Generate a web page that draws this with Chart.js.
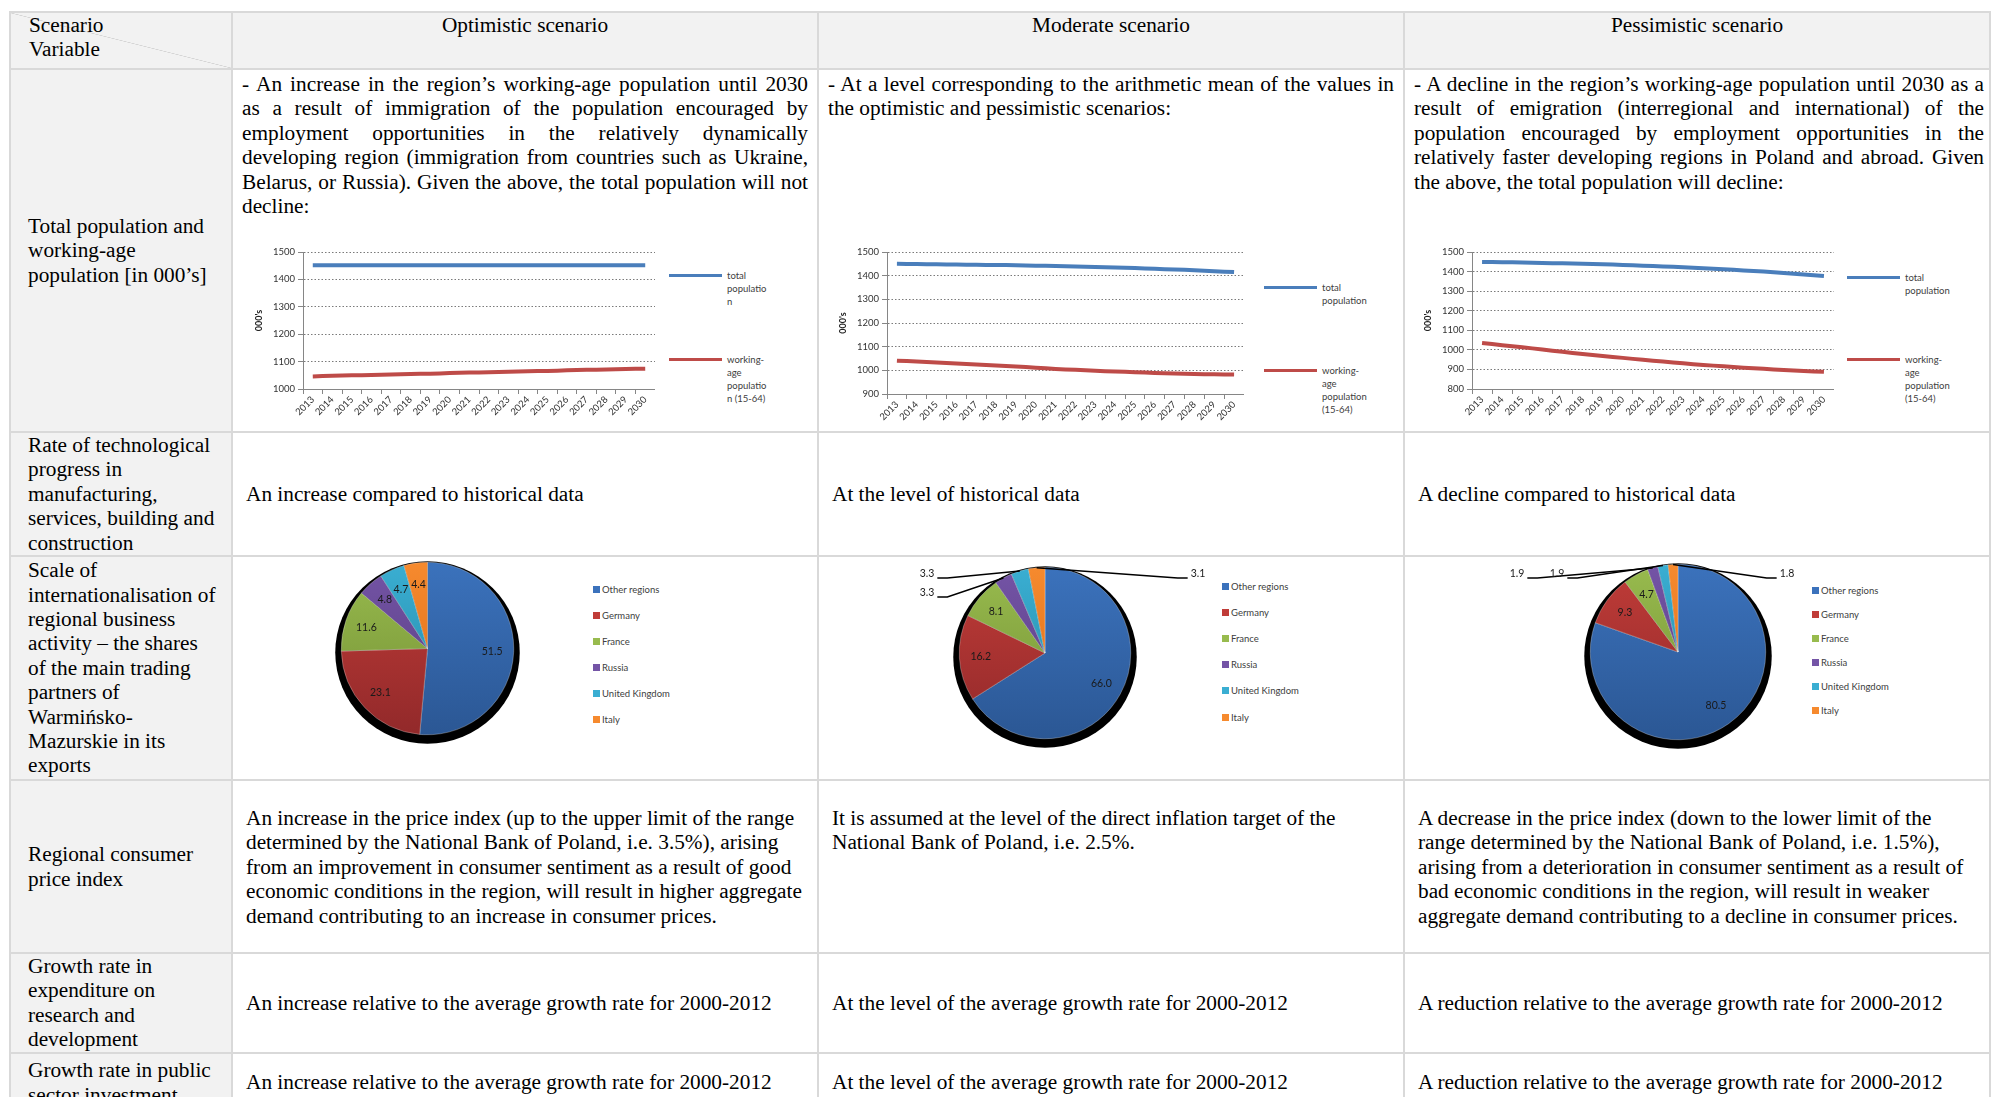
<!DOCTYPE html>
<html>
<head>
<meta charset="utf-8">
<title>Scenario assumptions</title>
<script src="https://cdn.jsdelivr.net/npm/chart.js@4.4.1/dist/chart.umd.min.js"></script>
<style>
  html, body { margin: 0; padding: 0; background: #fff; }
  body { width: 1992px; height: 1097px; overflow: hidden; position: relative; }
  table {
    position: absolute; left: 9px; top: 11px;
    border-collapse: collapse; table-layout: fixed; width: 1982px;
    font-family: "Liberation Serif", "Times New Roman", serif;
    font-size: 21.3px; line-height: 24.4px; color: #000;
  }
  td { border: 2px solid #d9d9d9; padding: 0; overflow: hidden; }
  .head td { background: #f2f2f2; vertical-align: top; text-align: center; padding-top: 0; }
  .head td.corner {
    text-align: left; padding: 1px 0 0 18px; line-height: 23.5px;
    background: linear-gradient(to top right, #f2f2f2 calc(50% - 0.6px), #cfcfcf 50%, #f2f2f2 calc(50% + 0.6px));
  }
  td.var { background: #f2f2f2; vertical-align: middle; padding: 0 13px 0 17px; }
  td.txt { vertical-align: middle; padding: 0 10px 0 13px; }
  td.intro { vertical-align: top; text-align: justify; padding: 2px 9px 0 9px; }
  td.intro.last { padding-right: 5px; }
  td.top { vertical-align: top; padding: 25px 10px 0 13px; }
  .fullline { display: block; text-align-last: justify; }
  .box { position: absolute; }
  .lg { position: absolute; top: 0; font-family: Lato, "Liberation Sans", sans-serif; font-size: 9.5px; color: #404040; }
  .lg-item { position: absolute; left: 0; display: flex; align-items: flex-start; }
  .lg-line { width: 53px; height: 3px; margin-top: 5px; margin-right: 5px; flex: none; }
  .lg-text { line-height: 13px; overflow-wrap: anywhere; }
  .pl-item { position: absolute; left: 0; display: flex; align-items: center; white-space: nowrap; }
  .pl-box { width: 7px; height: 7px; margin-right: 2px; flex: none; }
</style>
</head>
<body>
<table>
  <colgroup><col style="width:222px"><col style="width:586px"><col style="width:586px"><col style="width:586px"></colgroup>
  <tr class="head" style="height:57px">
    <td class="corner">Scenario<br>Variable</td>
    <td>Optimistic scenario</td>
    <td>Moderate scenario</td>
    <td>Pessimistic scenario</td>
  </tr>
  <tr style="height:363px">
    <td class="var">Total population and working-age population [in 000’s]</td>
    <td class="intro"><span class="fullline">- An increase in the region’s working-age population until 2030</span>as a result of immigration of the population encouraged by employment opportunities in the relatively dynamically developing region (immigration from countries such as Ukraine, Belarus, or Russia). Given the above, the total population will not decline:</td>
    <td class="intro">- At a level corresponding to the arithmetic mean of the values in the optimistic and pessimistic scenarios:</td>
    <td class="intro last">- A decline in the region’s working-age population until 2030 as a result of emigration (interregional and international) of the population encouraged by employment opportunities in the relatively faster developing regions in Poland and abroad. Given the above, the total population will decline:</td>
  </tr>
  <tr style="height:123px">
    <td class="var">Rate of technological progress in manufacturing, services, building and construction</td>
    <td class="txt">An increase compared to historical data</td>
    <td class="txt">At the level of historical data</td>
    <td class="txt">A decline compared to historical data</td>
  </tr>
  <tr style="height:224px">
    <td class="var">Scale of internationalisation of regional business activity – the shares of the main trading partners of Warmińsko-Mazurskie in its exports</td>
    <td></td><td></td><td></td>
  </tr>
  <tr style="height:173px">
    <td class="var">Regional consumer price index</td>
    <td class="top">An increase in the price index (up to the upper limit of the range determined by the National Bank of Poland, i.e. 3.5%), arising from an improvement in consumer sentiment as a result of good economic conditions in the region, will result in higher aggregate demand contributing to an increase in consumer prices.</td>
    <td class="top">It is assumed at the level of the direct inflation target of the National Bank of Poland, i.e. 2.5%.</td>
    <td class="top">A decrease in the price index (down to the lower limit of the range determined by the National Bank of Poland, i.e. 1.5%), arising from a deterioration in consumer sentiment as a result of bad economic conditions in the region, will result in weaker aggregate demand contributing to a decline in consumer prices.</td>
  </tr>
  <tr style="height:99px">
    <td class="var">Growth rate in expenditure on research and development</td>
    <td class="txt">An increase relative to the average growth rate for 2000-2012</td>
    <td class="txt">At the level of the average growth rate for 2000-2012</td>
    <td class="txt">A reduction relative to the average growth rate for 2000-2012</td>
  </tr>
  <tr style="height:60px">
    <td class="var">Growth rate in public sector investment</td>
    <td class="txt">An increase relative to the average growth rate for 2000-2012</td>
    <td class="txt">At the level of the average growth rate for 2000-2012</td>
    <td class="txt">A reduction relative to the average growth rate for 2000-2012</td>
  </tr>
</table>

<div class="box" style="left:250px;top:242px;width:405px;height:182px"><canvas id="lineOpt"></canvas></div>
<div class="box" style="left:834px;top:242px;width:410px;height:187px"><canvas id="lineMod"></canvas></div>
<div class="box" style="left:1419px;top:242px;width:415px;height:182px"><canvas id="linePes"></canvas></div>
<div class="lg" id="lgOpt" style="left:669px"></div>
<div class="lg" id="lgMod" style="left:1264px"></div>
<div class="lg" id="lgPes" style="left:1847px"></div>

<div class="box" style="left:320px;top:557px;width:215px;height:195px"><canvas id="pieOpt"></canvas></div>
<div class="box" style="left:905px;top:557px;width:310px;height:195px"><canvas id="pieMod"></canvas></div>
<div class="box" style="left:1495px;top:557px;width:310px;height:195px"><canvas id="piePes"></canvas></div>
<div class="lg" id="plOpt" style="left:593px"></div>
<div class="lg" id="plMod" style="left:1222px"></div>
<div class="lg" id="plPes" style="left:1812px"></div>

<script>
"use strict";

// population, in thousands
const years = ["2013", "2014", "2015", "2016", "2017", "2018", "2019", "2020", "2021",
  "2022", "2023", "2024", "2025", "2026", "2027", "2028", "2029", "2030"];
const seriesNames = ["total population", "working-age population (15-64)"];

const optimisticTotal = [1452, 1452, 1452, 1452, 1452, 1452, 1452, 1452, 1452,
  1452, 1452, 1452, 1452, 1452, 1452, 1452, 1452, 1452];
const optimisticWorking = [1046, 1048, 1050, 1051, 1053, 1055, 1056, 1058, 1060,
  1061, 1063, 1065, 1066, 1068, 1070, 1071, 1073, 1074];
const moderateTotal = [1450, 1449, 1448, 1447, 1446, 1445, 1444, 1442, 1441,
  1439, 1437, 1435, 1432, 1429, 1426, 1423, 1419, 1415];
const moderateWorking = [1041, 1037, 1033, 1029, 1025, 1020, 1016, 1011, 1006,
  1002, 998, 995, 992, 989, 987, 985, 983, 982];
const pessimisticTotal = [1449, 1448, 1446, 1444, 1442, 1440, 1437, 1434, 1430,
  1426, 1422, 1417, 1412, 1406, 1400, 1393, 1385, 1377];
const pessimisticWorking = [1035, 1024, 1013, 1002, 990, 979, 969, 959, 949,
  940, 931, 923, 916, 909, 903, 897, 892, 888];

const optimisticRange = [1000, 1500];
const moderateRange = [900, 1500];
const pessimisticRange = [800, 1500];

// export shares, %
const partners = ["Other regions", "Germany", "France", "Russia", "United Kingdom", "Italy"];
const optimisticShares = [51.5, 23.1, 11.6, 4.8, 4.7, 4.4];
const moderateShares = [66.0, 16.2, 8.1, 3.3, 3.3, 3.1];
const pessimisticShares = [80.5, 9.3, 4.7, 1.9, 1.9, 1.8];

const lineColors = ["#4A7EBB", "#BE4B48"];
const sliceTop = ["#3B72BC", "#C03C38", "#98BB4E", "#7454A6", "#3AAED2", "#F68A2E"];
const sliceBottom = ["#2B5794", "#92292A", "#738F34", "#563C7E", "#2486A3", "#DB6A14"];
const smallFont = "Lato, 'Liberation Sans', sans-serif";

const makeLineChart = function (id, total, working, range) {
  return new Chart(document.getElementById(id), {
    type: "line",
    data: {
      labels: years,
      datasets: [total, working].map((values, i) => ({
        label: seriesNames[i],
        data: values,
        borderColor: lineColors[i],
        borderWidth: 4,
        tension: 0.4,
        pointRadius: 0,
      })),
    },
    options: {
      responsive: true,
      maintainAspectRatio: false,
      animation: false,
      layout: { padding: { top: 10, left: 4, right: 0, bottom: 0 } },
      plugins: { legend: { display: false }, tooltip: { enabled: false } },
      scales: {
        x: {
          offset: true,
          grid: { offset: true, drawOnChartArea: false, tickLength: 5, color: "#868686" },
          border: { color: "#868686" },
          ticks: {
            autoSkip: false, maxRotation: 45, minRotation: 45, padding: 0,
            color: "#333", font: { family: smallFont, size: 9.5 },
          },
          afterFit: (scale) => { scale.height = 35; },
        },
        y: {
          min: range[0],
          max: range[1],
          ticks: {
            stepSize: 100, padding: 3, color: "#333", font: { family: smallFont, size: 9.5 },
            callback: (value) => String(value),
          },
          grid: { color: "#7a7a7a", tickLength: 5, tickColor: "#868686" },
          border: { color: "#868686", dash: [1.5, 2] },
          title: {
            display: true, text: "000's", padding: 0, color: "#222",
            font: { family: smallFont, size: 9, weight: "bold" },
          },
          afterFit: (scale) => { scale.width = 49; },
        },
      },
    },
  });
};

const lineLegend = function (chart, id, rows, textWidth) {
  const el = document.getElementById(id);
  chart.data.datasets.forEach((ds, i) => {
    const item = document.createElement("div");
    item.className = "lg-item";
    item.style.top = rows[i] - 6.5 + "px";
    item.innerHTML = `<span class="lg-line" style="background:${ds.borderColor}"></span>` +
      `<span class="lg-text" style="width:${textWidth}px">${ds.label}</span>`;
    el.appendChild(item);
  });
};

// black shade behind the pie, like the Excel original
const pieShade = {
  id: "pieShade",
  beforeDatasetsDraw(chart) {
    const arc = chart.getDatasetMeta(0).data[0];
    if (!arc) return;
    const ctx = chart.ctx;
    ctx.save();
    ctx.fillStyle = "#000";
    ctx.beginPath();
    ctx.ellipse(arc.x, arc.y + 4, arc.outerRadius + 6, arc.outerRadius + 5, 0, 0, Math.PI * 2);
    ctx.fill();
    ctx.restore();
  },
};

// value labels, inside the slice or on a leader line
const sliceLabels = {
  id: "sliceLabels",
  afterDatasetsDraw(chart, args, opts) {
    const ctx = chart.ctx;
    const values = chart.data.datasets[0].data;
    const callouts = opts.callouts || {};
    ctx.save();
    ctx.font = `10.5px ${smallFont}`;
    ctx.fillStyle = "#1a1a1a";
    ctx.strokeStyle = "#000";
    ctx.lineWidth = 1.5;
    ctx.textAlign = "center";
    ctx.textBaseline = "middle";
    chart.getDatasetMeta(0).data.forEach((arc, i) => {
      const mid = (arc.startAngle + arc.endAngle) / 2;
      const text = values[i].toFixed(1);
      const c = callouts[i];
      if (c) {
        const lx = arc.x + c[0];
        const ly = arc.y + c[1];
        const side = c[0] < 0 ? 1 : -1;
        const w = ctx.measureText(text).width;
        const sx = lx + side * (w / 2 + 3);
        const sy = ly + 4;
        ctx.beginPath();
        ctx.moveTo(sx, sy);
        ctx.lineTo(sx + side * 10, sy);
        ctx.lineTo(arc.x + Math.cos(mid) * arc.outerRadius, arc.y + Math.sin(mid) * arc.outerRadius);
        ctx.stroke();
        ctx.fillText(text, lx, ly);
      } else {
        const r = arc.outerRadius * 0.75;
        ctx.fillText(text, arc.x + Math.cos(mid) * r, arc.y + Math.sin(mid) * r);
      }
    });
    ctx.restore();
  },
};

const makePieChart = function (id, shares, padding, callouts) {
  return new Chart(document.getElementById(id), {
    type: "pie",
    data: {
      labels: partners,
      datasets: [{
        data: shares,
        backgroundColor: (c) => {
          const area = c.chart.chartArea;
          if (!area) return sliceTop[c.dataIndex];
          const g = c.chart.ctx.createLinearGradient(0, area.top, 0, area.bottom);
          g.addColorStop(0, sliceTop[c.dataIndex]);
          g.addColorStop(1, sliceBottom[c.dataIndex]);
          return g;
        },
        borderColor: "rgba(255,255,255,0.55)",
        borderWidth: 0.5,
        hoverOffset: 0,
      }],
    },
    options: {
      responsive: true,
      maintainAspectRatio: false,
      animation: false,
      layout: { padding: padding },
      plugins: {
        legend: { display: false },
        tooltip: { enabled: false },
        sliceLabels: { callouts: callouts },
      },
    },
    plugins: [pieShade, sliceLabels],
  });
};

const pieLegend = function (chart, id, firstRow, step) {
  const el = document.getElementById(id);
  chart.data.labels.forEach((name, i) => {
    const item = document.createElement("div");
    item.className = "pl-item";
    item.style.top = firstRow + i * step - 6.5 + "px";
    item.style.height = "13px";
    item.innerHTML = `<span class="pl-box" style="background:${sliceTop[i]}"></span><span>${name}</span>`;
    el.appendChild(item);
  });
};

const lineOpt = makeLineChart("lineOpt", optimisticTotal, optimisticWorking, optimisticRange);
const lineMod = makeLineChart("lineMod", moderateTotal, moderateWorking, moderateRange);
const linePes = makeLineChart("linePes", pessimisticTotal, pessimisticWorking, pessimisticRange);
lineLegend(lineOpt, "lgOpt", [275, 359], 43);
lineLegend(lineMod, "lgMod", [287, 370], 48);
lineLegend(linePes, "lgPes", [277, 359], 48);

const pieOpt = makePieChart("pieOpt", optimisticShares, { left: 21, right: 21, top: 5, bottom: 17 }, {});
const pieMod = makePieChart("pieMod", moderateShares, { left: 54, right: 84, top: 10, bottom: 13 },
  { 3: [-118, -60], 4: [-118, -79], 5: [153, -79] });
const piePes = makePieChart("piePes", pessimisticShares, { left: 95, right: 39, top: 7, bottom: 12 },
  { 3: [-161, -78], 4: [-121, -78], 5: [109, -78] });
pieLegend(pieOpt, "plOpt", 589, 26);
pieLegend(pieMod, "plMod", 586, 26.2);
pieLegend(piePes, "plPes", 590, 24);
</script>
</body>
</html>
